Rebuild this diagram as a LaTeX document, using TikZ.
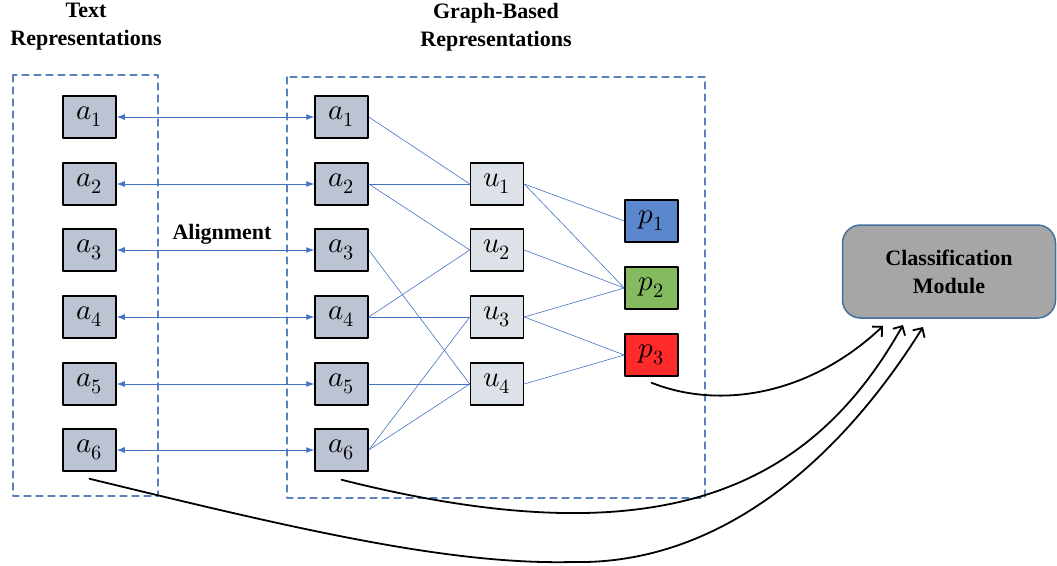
\documentclass[tikz,border=0pt]{standalone}
\usepackage{fontspec}
\usepackage{unicode-math}
\setmainfont{Liberation Serif}
\setmathfont{Latin Modern Math}
\usetikzlibrary{arrows.meta}
\definecolor{agray}{HTML}{BCC3D3}
\definecolor{ugray}{HTML}{DDE1E8}
\definecolor{pblue}{HTML}{5B87CD}
\definecolor{pgreen}{HTML}{84BB61}
\definecolor{pred}{HTML}{FF2A2A}
\definecolor{linkblue}{HTML}{4472C4}
\definecolor{dashblue}{HTML}{5A7FBF}
\definecolor{clsgray}{HTML}{A6A6A6}
\definecolor{clsborder}{HTML}{41719C}
\tikzset{
  vbox/.style={draw, line width=1.5pt, minimum width=53pt, minimum height=42pt, inner sep=0pt, font=\fontsize{29}{32}\selectfont},
  edge/.style={linkblue, line width=0.6pt},
  alignarrow/.style={linkblue, line width=0.9pt, {Latex[length=8pt,width=6pt]}-{Latex[length=8pt,width=6pt]}},
  dashbox/.style={dashblue, line width=1.2pt, dash pattern=on 7pt off 5pt},
  flow/.style={line width=1.8pt, -{Straight Barb[length=7pt,width=14pt]}}
}
\begin{document}
\begin{tikzpicture}[x=1pt, y=-1pt, font=\fontsize{22}{28}\selectfont\bfseries, line join=round, line cap=round]
  \useasboundingbox (0,0) rectangle (1057,565);
  % frames and titles
  \draw[dashbox] (13,75) rectangle (158,496);
  \draw[dashbox] (287,77) rectangle (705,498);
  \node[align=center] (ttext) at (86,27) {Text\\Representations};
  \node[align=center] (tgraph) at (496,27) {Graph-Based\\Representations};
  \node (align) at (222,234) {Alignment};
  % attribute nodes on both sides
  \foreach \i/\y in {1/117,2/184,3/250,4/317,5/384,6/450} {
    \node[vbox, fill=agray] (t\i) at (89.5,\y) {$a_\i$};
    \node[vbox, fill=agray] (g\i) at (341.5,\y) {$a_\i$};
    \draw[alignarrow] (t\i) -- (g\i);
  }
  \foreach \i/\y in {1/184,2/250,3/317,4/384}
    \node[vbox, fill=ugray] (u\i) at (497,\y) {$u_\i$};
  \foreach \i/\y/\c in {1/221/pblue,2/288/pgreen,3/355/pred}
    \node[vbox, fill=\c] (p\i) at (651.5,\y) {$p_\i$};
  % graph edges
  \foreach \a/\b in {g1/u1,g2/u1,g2/u2,g3/u4,g4/u2,g4/u3,g5/u4,g6/u3,g6/u4}
    \draw[edge] (\a.east) -- (\b.west);
  \foreach \a/\b in {u1/p1,u1/p2,u2/p2,u3/p2,u3/p3,u4/p3}
    \draw[edge] (\a.east) -- (\b.west);
  % classifier
  \node[draw=clsborder, fill=clsgray, line width=1.5pt, rounded corners=18pt, minimum width=213pt, minimum height=93pt, align=center] (cls) at (949,271.5) {Classification\\Module};
  \coordinate (e1) at (883,326);
  \coordinate (e2) at (903,325);
  \coordinate (e3) at (923,327);
  \draw[flow] ([yshift=-6pt]p3.south) .. controls (720,410) and (810,395) .. (e1);
  \draw[flow] ([yshift=-8pt]g6.south) .. controls (660,560) and (810,490) .. (e2);
  \draw[flow] ([yshift=-7pt]t6.south) .. controls (300,530) and (450,565) .. (573,562) .. controls (720,565) and (840,460) .. (e3);
\end{tikzpicture}
\end{document}
